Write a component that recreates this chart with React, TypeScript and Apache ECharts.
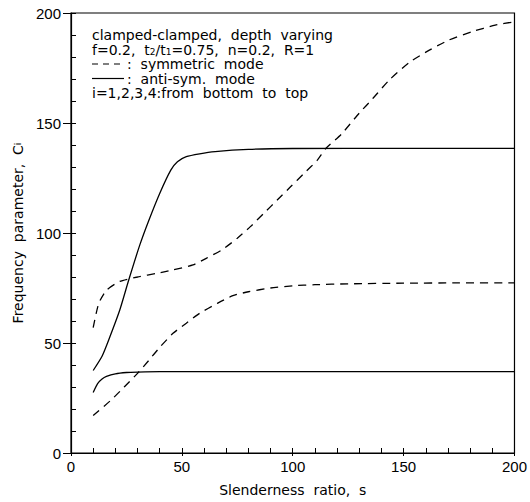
import React, { useEffect, useRef } from "react";
import * as echarts from "echarts";

// Curve 1: anti-symmetric mode, i=1 (solid, lowest)
const s1 = [10, 12, 14, 16, 20, 25, 30, 40, 60, 100, 150, 200];
const c1 = [27.5, 31.5, 33.6, 34.8, 36, 36.6, 36.8, 37, 37, 37, 37, 37];
// Curve 2: symmetric mode, i=2 (dashed, lower)
const s2 = [10, 18, 24, 30, 35, 40, 46, 52, 58, 66, 73, 80, 90, 100, 110, 125, 150, 175, 200];
const c2 = [17, 24, 30, 36.2, 42, 48, 54.4, 59, 63.5, 68, 71.5, 73.3, 75, 76, 76.5, 76.9, 77.2, 77.3, 77.3];
// Curve 3: anti-symmetric mode, i=3 (solid, steep)
const s3 = [10, 14, 17, 22, 26, 31, 35, 40, 45, 48, 52, 58, 65, 80, 100, 150, 200];
const c3 = [37.5, 44, 51.4, 65, 78.5, 94.5, 105.5, 118, 128.6, 132.4, 134.7, 136, 137, 138, 138.4, 138.5, 138.5];
// Curve 4: symmetric mode, i=4 (dashed, upper)
const s4 = [10, 12.5, 16, 22, 30, 39, 46, 55, 61, 68, 75, 81, 87, 93, 99, 105, 111, 115, 122, 130, 136, 143.5, 152.5, 161.4, 170.4, 180.8, 191.3, 200];
const c4 = [57, 68, 74, 78, 80, 81.7, 83.2, 85.5, 88.5, 92.3, 97.6, 103, 109, 115, 121, 127, 133, 138.5, 145, 154.5, 161, 169.5, 177.5, 183, 187.7, 191.5, 194.5, 196];

const xTickLabels = ["0", "50", "100", "150", "200"];
const yTickLabels = ["0", "50", "100", "150", "200"];

const legendLines = [
  "clamped-clamped,  depth  varying",
  "f=0.2,  t{sub|2}/t{sub|1}=0.75,  n=0.2,  R=1",
  ":  symmetric  mode",
  ":  anti-sym.  mode",
  "i=1,2,3,4:from  bottom  to  top",
];

const FONT = "DejaVu Sans";

function zip(a: number[], b: number[]) {
  return a.map((v, i) => [v, b[i]]);
}

export default function App() {
  const ref = useRef<HTMLDivElement>(null);
  useEffect(() => {
    if (!ref.current) return;
    const chart = echarts.init(ref.current, undefined, { renderer: "svg" });
    const lineStyle = (dashed: boolean) => ({
      color: "#000",
      width: 1.3,
      type: dashed ? ([8, 6] as any) : "solid",
    });
    const mk = (s: number[], c: number[], dashed: boolean) => ({
      type: "line",
      data: zip(s, c),
      smooth: 0.2,
      showSymbol: false,
      symbol: "none",
      lineStyle: lineStyle(dashed),
      xAxisIndex: 0,
      yAxisIndex: 0,
    });
    const lineYs = [35, 49.5, 64, 78.5, 93];
    const textX = 92;
    const graphics: any[] = legendLines.map((t, i) => ({
      type: "text",
      x: i === 2 || i === 3 ? 127 : textX,
      y: lineYs[i],
      style: {
        text: t,
        font: `14px "${FONT}"`,
        fill: "#000",
        verticalAlign: "middle",
        lineHeight: 14,
        rich: {
          sub: { fontSize: 9, lineHeight: 14, verticalAlign: "bottom", fontFamily: FONT },
        },
      },
    }));
    graphics.push({
      type: "line",
      shape: { x1: 92, y1: lineYs[2], x2: 124, y2: lineYs[2] },
      style: { stroke: "#000", lineWidth: 1.2, lineDash: [6, 5] },
    });
    graphics.push({
      type: "line",
      shape: { x1: 92, y1: lineYs[3], x2: 124, y2: lineYs[3] },
      style: { stroke: "#000", lineWidth: 1.2 },
    });

    chart.setOption({
      animation: false,
      grid: {
        left: 71,
        right: 14,
        top: 13,
        bottom: 49,
        show: true,
        borderColor: "#000",
        borderWidth: 1.2,
        containLabel: false,
      },
      xAxis: [
        {
          type: "value",
          min: 0,
          max: 200,
          interval: 10,
          position: "bottom",
          axisLine: { show: true, onZero: false, lineStyle: { color: "#000", width: 1.2 } },
          axisTick: { show: true, inside: true, length: 5, lineStyle: { color: "#000" } },
          axisLabel: {
            color: "#000",
            fontFamily: "Liberation Sans",
            fontSize: 15,
            margin: 6,
            formatter: (v: number) => {
              const idx = xTickLabels.indexOf(String(v));
              return idx >= 0 ? xTickLabels[idx] : "";
            },
          },
          splitLine: { show: false },
          name: "Slenderness  ratio,  s",
          nameLocation: "middle",
          nameGap: 30,
          nameTextStyle: { color: "#000", fontFamily: FONT, fontSize: 14 },
        },
        {
          type: "value",
          min: 0,
          max: 200,
          interval: 50,
          position: "bottom",
          axisLine: { show: false },
          axisTick: { show: true, inside: false, length: 3, lineStyle: { color: "#000" } },
          axisLabel: { show: false },
          splitLine: { show: false },
        },
      ],
      yAxis: [
        {
          type: "value",
          min: 0,
          max: 200,
          interval: 10,
          position: "left",
          axisLine: { show: true, onZero: false, lineStyle: { color: "#000", width: 1.2 } },
          axisTick: { show: true, inside: true, length: 5, lineStyle: { color: "#000" } },
          axisLabel: {
            color: "#000",
            fontFamily: "Liberation Sans",
            fontSize: 15,
            margin: 10,
            formatter: (v: number) => {
              const idx = yTickLabels.indexOf(String(v));
              return idx >= 0 ? yTickLabels[idx] : "";
            },
          },
          splitLine: { show: false },
          name: "Frequency  parameter,  C{sub|i}",
          nameLocation: "middle",
          nameGap: 46,
          nameRotate: 90,
          nameTextStyle: {
            color: "#000",
            fontFamily: FONT,
            fontSize: 14,
            rich: {
              sub: { fontSize: 9, fontFamily: FONT, color: "#000" },
            },
          },
        },
        {
          type: "value",
          min: 0,
          max: 200,
          interval: 50,
          position: "left",
          axisLine: { show: false },
          axisTick: { show: true, inside: false, length: 8, lineStyle: { color: "#000" } },
          axisLabel: { show: false },
          splitLine: { show: false },
        },
      ],
      series: [mk(s1, c1, false), mk(s2, c2, true), mk(s3, c3, false), mk(s4, c4, true)],
      graphic: graphics,
    });
    return () => chart.dispose();
  }, []);
  return <div ref={ref} style={{ width: 530, height: 502, position: "absolute", left: 0, top: 0 }} />;
}
